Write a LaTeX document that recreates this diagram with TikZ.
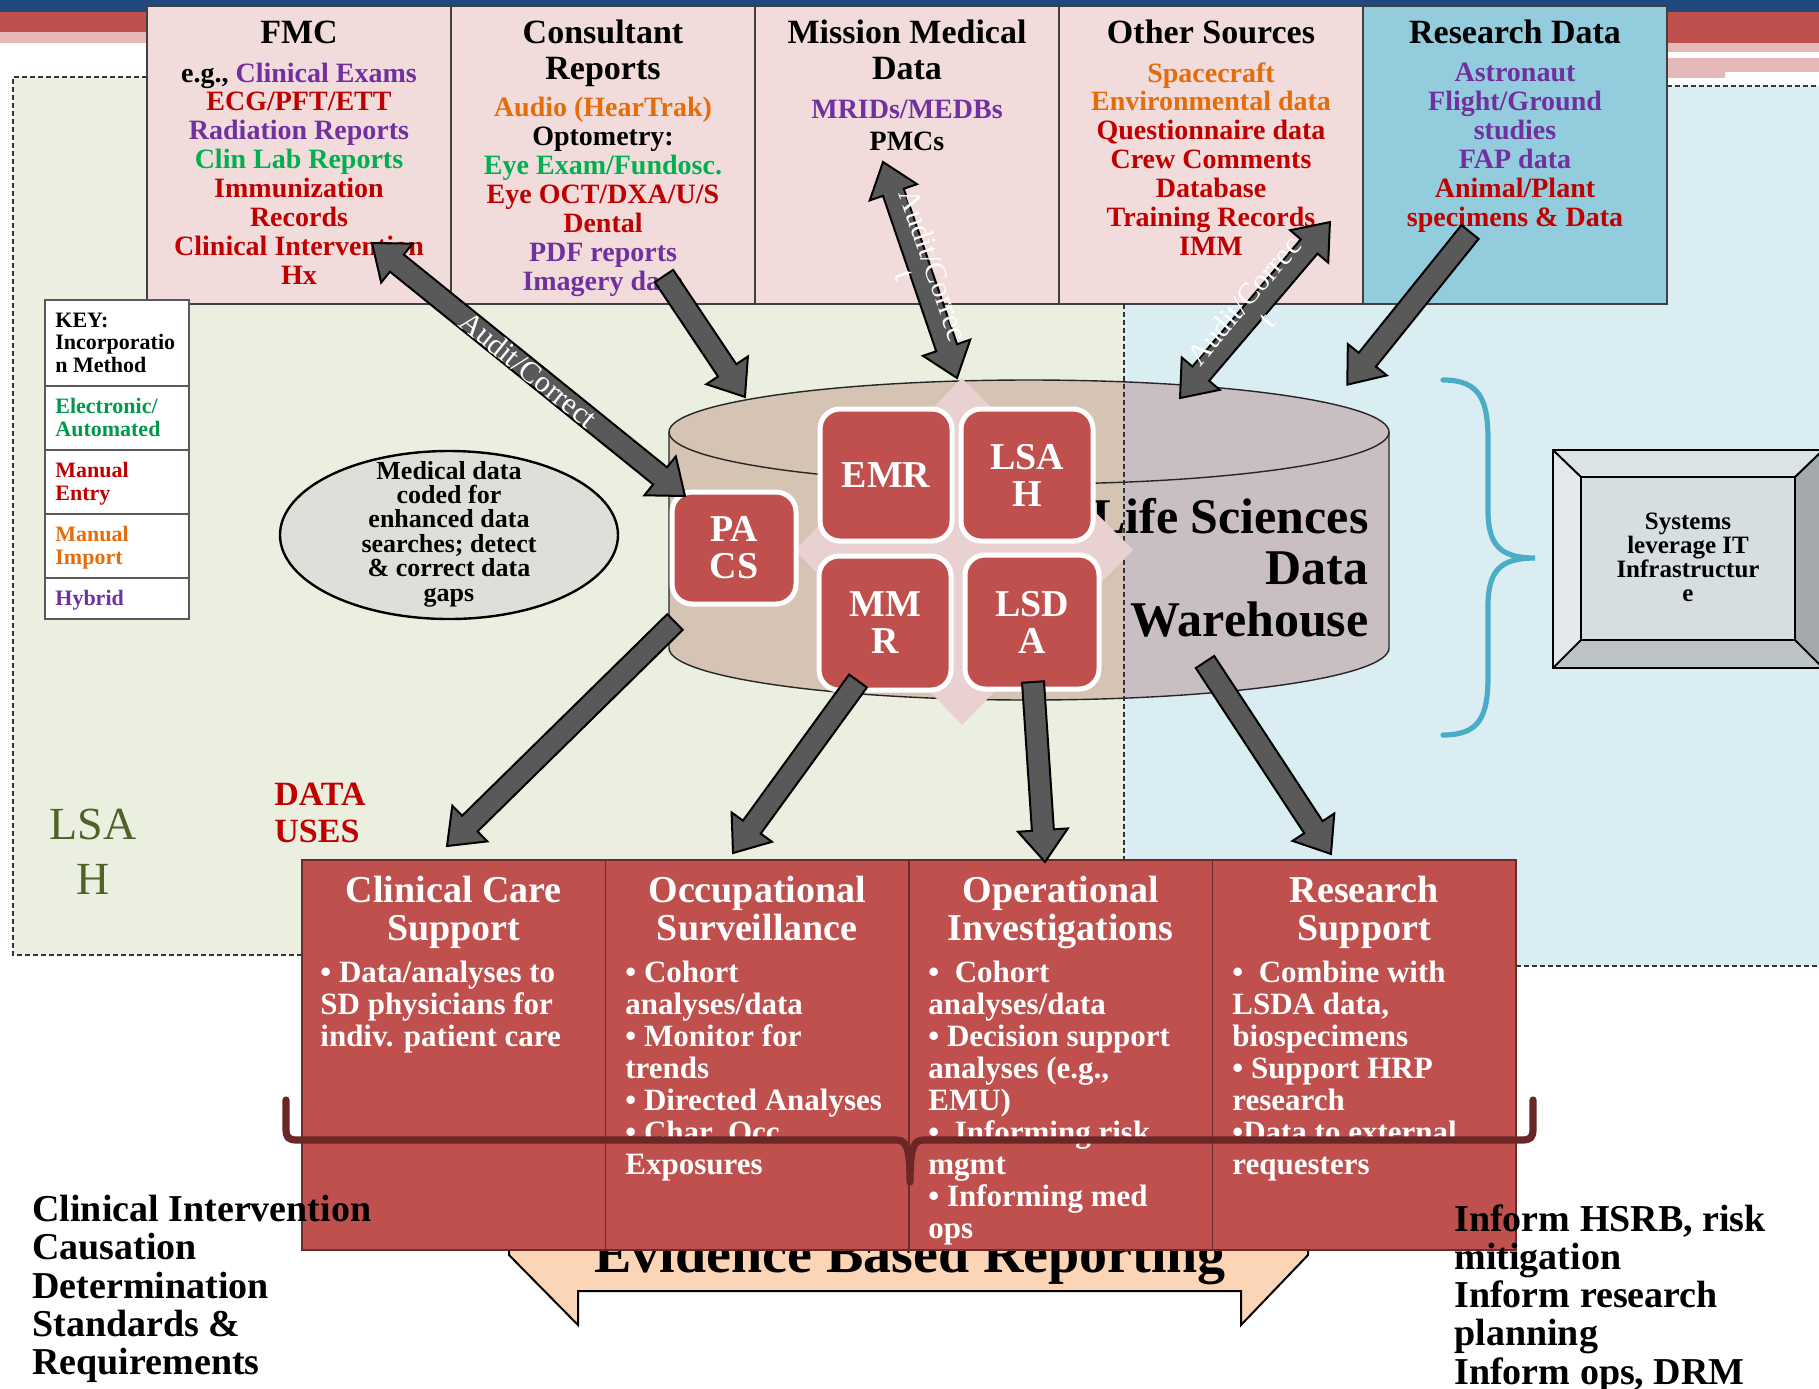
\documentclass[tikz,border=0pt]{standalone}
\usepackage{fontspec}
\setmainfont{Liberation Serif}
\usetikzlibrary{shapes.geometric}

\definecolor{cpurple}{HTML}{7030A0}
\definecolor{cred}{HTML}{C00000}
\definecolor{cgreen}{HTML}{00B050}
\definecolor{kgreen}{HTML}{00994C}
\definecolor{corange}{HTML}{E46C0A}
\definecolor{hdrpink}{HTML}{F2DCDB}
\definecolor{hdrblue}{HTML}{93CDDD}
\definecolor{bgreen}{HTML}{EBEFDF}
\definecolor{bblue}{HTML}{DAEDF3}
\definecolor{tablered}{HTML}{C0504D}
\definecolor{bandblue}{HTML}{1F497D}
\definecolor{bandpink}{HTML}{E6B9B8}
\definecolor{arrowgray}{HTML}{595959}
\definecolor{cyltan}{HTML}{D5C3B4}
\definecolor{cylmauve}{HTML}{C9BEC2}
\definecolor{diampink}{HTML}{EAD1D1}
\definecolor{olive}{HTML}{4F6228}
\definecolor{bracebl}{HTML}{4BACC6}
\definecolor{bracered}{HTML}{6B2626}
\definecolor{peach}{HTML}{FBD5B5}
\definecolor{ellgray}{HTML}{DDDFD9}
\definecolor{bevtop}{HTML}{DCE3E6}
\definecolor{bevleft}{HTML}{E4EAEC}
\definecolor{bevbot}{HTML}{BDC3C5}
\definecolor{bevright}{HTML}{A4AAAC}
\definecolor{bevface}{HTML}{D7DEE1}

\newcommand\tstrut{\rule[-0.22em]{0pt}{0.92em}}

\newdimen\arxA \newdimen\aryA \newdimen\arxB \newdimen\aryB
\newcommand\getarrowgeom[2]{%
  \pgfextractx{\arxA}{\pgfpointanchor{#1}{center}}%
  \pgfextracty{\aryA}{\pgfpointanchor{#1}{center}}%
  \pgfextractx{\arxB}{\pgfpointanchor{#2}{center}}%
  \pgfextracty{\aryB}{\pgfpointanchor{#2}{center}}%
  \pgfmathsetmacro\arang{atan2(\aryB-\aryA,\arxB-\arxA)}%
  \pgfmathsetmacro\arlen{veclen(\arxB-\arxA,\aryB-\aryA)}%
  \pgfmathsetmacro\arbase{\arlen-16}%
  \pgfmathsetmacro\armid{\arlen/2}%
}
\newcommand\sarrow[2]{%
  \getarrowgeom{#1}{#2}%
  \begin{scope}[shift={(#1)},rotate=\arang]
    \draw[barrow] (0pt,-5.5pt) -- (\arbase pt,-5.5pt) -- (\arbase pt,-12.5pt) -- (\arlen pt,0pt)
      -- (\arbase pt,12.5pt) -- (\arbase pt,5.5pt) -- (0pt,5.5pt) -- cycle;
  \end{scope}}
\newcommand\darrow[4]{%
  \getarrowgeom{#1}{#2}%
  \begin{scope}[shift={(#1)},rotate=\arang]
    \draw[barrow] (0pt,0pt) -- (16pt,-12.5pt) -- (16pt,-5.5pt) -- (\arbase pt,-5.5pt) -- (\arbase pt,-12.5pt)
      -- (\arlen pt,0pt) -- (\arbase pt,12.5pt) -- (\arbase pt,5.5pt) -- (16pt,5.5pt) -- (16pt,12.5pt) -- cycle;
    \node[arrlabel,transform shape] (#3) at (\armid pt,0pt) {#4};
  \end{scope}}

\begin{document}
\begin{tikzpicture}[x=0.5pt,y=-0.5pt,
  hdtitle/.style={font=\fontsize{17}{18}\selectfont\bfseries,align=center,inner sep=0pt},
  hdbody/.style={font=\fontsize{14}{14.43}\selectfont\bfseries,align=center,inner sep=0pt},
  keytxt/.style={font=\fontsize{11}{11.2}\selectfont\bfseries,align=left,anchor=west,inner sep=0pt},
  celltitle/.style={font=\fontsize{19}{19}\selectfont\bfseries,align=center,inner sep=0pt,text=white},
  cellbody/.style={font=\fontsize{15.5}{16}\selectfont\bfseries,align=left,anchor=west,inner sep=0pt,text=white},
  bigtxt/.style={font=\fontsize{19}{19.2}\selectfont\bfseries,align=left,anchor=west,inner sep=0pt},
  dbbox/.style={draw=white,line width=2.5pt,fill=tablered,rounded corners=10pt,inner sep=0pt,
     font=\fontsize{19}{18.5}\selectfont\bfseries,text=white,align=center},
  barrow/.style={draw=black,line width=1pt,fill=arrowgray,line join=miter},
  arrlabel/.style={font=\fontsize{15}{15}\selectfont,text=white,align=center,inner sep=0pt},
  hdrbox/.style={draw=black!75,line width=0.7pt},
  dashline/.style={draw=black!80,line width=0.6pt,dash pattern=on 2.5pt off 1.5pt},
  cylline/.style={draw=black!85,line width=0.7pt},
  cellbox/.style={draw=black!45!tablered,line width=0.6pt,fill=tablered},
  bevline/.style={draw=black,line width=1pt}
]
\useasboundingbox (0,0) rectangle (1819,1388);
\fill[white] (0,0) rectangle (1819,1388);

% top bands
\fill[bandblue] (0,0) rectangle (1819,12);
\fill[tablered] (0,12) rectangle (147,32);
\fill[bandpink] (0,32) rectangle (147,43);
\fill[tablered] (1667,12) rectangle (1819,43);
\fill[bandpink] (1667,43) rectangle (1819,52);
\fill[bandpink] (1667,58) rectangle (1819,72);
\fill[bandpink] (1667,72) rectangle (1725,78);

% regions
\fill[bgreen] (13,77) rectangle (1124,955);
\fill[bblue] (1124,86) rectangle (1819,966);
\draw[dashline] (147,77) -- (13,77) -- (13,955) -- (302,955);
\draw[dashline] (1667,86) -- (1819,86);
\draw[dashline] (1516,966) -- (1819,966);

% header boxes
\foreach \xa/\xb/\fc in {147/451/hdrpink,451/755/hdrpink,755/1059/hdrpink,1059/1363/hdrpink,1363/1667/hdrblue}
  \draw[hdrbox,fill=\fc] (\xa,6) rectangle (\xb,304);

\node[hdtitle] (tFMC) at (299,35.8) {\tstrut FMC};
\node[hdbody] (fmcBody) at (299,176.3) {\tstrut e.g., \textcolor{cpurple}{Clinical Exams}\\
  \textcolor{cred}{ECG/PFT/ETT}\\ \textcolor{cpurple}{Radiation Reports}\\ \textcolor{cgreen}{Clin Lab Reports}\\
  \textcolor{cred}{Immunization}\\ \textcolor{cred}{Records}\\ \textcolor{cred}{Clinical Intervention}\\ \textcolor{cred}{Hx}\tstrut};

\node[hdtitle] (tCon) at (603,53.8) {\tstrut Consultant\\Reports\tstrut};
\node[hdbody] (conBody) at (603,196.8) {\tstrut\textcolor{corange}{Audio (HearTrak)}\\ Optometry:\\
  \textcolor{cgreen}{Eye Exam/Fundosc.}\\ \textcolor{cred}{Eye OCT/DXA/U/S}\\ \textcolor{cred}{Dental}\\
  \textcolor{cpurple}{PDF reports}\\ \textcolor{cpurple}{Imagery data}\tstrut};

\node[hdtitle] (tMis) at (907,53.8) {\tstrut Mission Medical\\Data\tstrut};
\node[hdbody,font=\fontsize{14}{16}\selectfont\bfseries] (misBody) at (907,127.3) {\tstrut\textcolor{cpurple}{MRIDs/MEDBs}\\PMCs\tstrut};

\node[hdtitle] (tOth) at (1211,35.8) {\tstrut Other Sources};
\node[hdbody] (othBody) at (1211,161.8) {\tstrut\textcolor{corange}{Spacecraft}\\ \textcolor{corange}{Environmental data}\\
  \textcolor{cred}{Questionnaire data}\\ \textcolor{cred}{Crew Comments}\\ \textcolor{cred}{Database}\\
  \textcolor{cred}{Training Records}\\ \textcolor{cred}{IMM}\tstrut};

\node[hdtitle] (tRes) at (1515,35.8) {\tstrut Research Data};
\node[hdbody] (resBody) at (1515,147.3) {\tstrut\textcolor{cpurple}{Astronaut}\\ \textcolor{cpurple}{Flight/Ground}\\
  \textcolor{cpurple}{studies}\\ \textcolor{cpurple}{FAP data}\\ \textcolor{cred}{Animal/Plant}\\ \textcolor{cred}{specimens \& Data}\tstrut};

% key
\draw[draw=black!65,line width=0.8pt,fill=white] (45,300) rectangle (189,619);
\foreach \yy in {386,450,514,578} \draw[draw=black!65,line width=0.8pt] (45,\yy) -- (189,\yy);
\node[keytxt] (keyA) at (55,344.7) {\tstrut KEY:\\Incorporatio\\n Method\tstrut};
\node[keytxt,text=kgreen,font=\fontsize{11}{11.5}\selectfont\bfseries] (keyB) at (55,420.2) {\tstrut Electronic/\\Automated\tstrut};
\node[keytxt,text=cred,font=\fontsize{11}{11.5}\selectfont\bfseries] (keyC) at (55,484.2) {\tstrut Manual\\Entry\tstrut};
\node[keytxt,text=corange,font=\fontsize{11}{11.5}\selectfont\bfseries] (keyD) at (55,548.2) {\tstrut Manual\\Import\tstrut};
\node[keytxt,text=cpurple] (keyE) at (55,600.7) {\tstrut Hybrid};

% ellipse
\node[draw=black,line width=1.2pt,ellipse,fill=ellgray,minimum width=169pt,minimum height=84pt] (ell) at (449,535) {};
\node[font=\fontsize{13}{12.2}\selectfont\bfseries,align=center,inner sep=0pt] (elltxt) at (449,534)
  {Medical data\\coded for\\enhanced data\\searches; detect\\\& correct data\\gaps};

% cylinder
\begin{scope}
  \clip (0,0) rectangle (1124,1388);
  \fill[cyltan] (669,432) -- (669,648) arc[start angle=180,end angle=360,x radius=180pt,y radius=26pt] -- (1389,432) arc[start angle=0,end angle=180,x radius=180pt,y radius=26pt] -- cycle;
\end{scope}
\begin{scope}
  \clip (1124,0) rectangle (1819,1388);
  \fill[cylmauve] (669,432) -- (669,648) arc[start angle=180,end angle=360,x radius=180pt,y radius=26pt] -- (1389,432) arc[start angle=0,end angle=180,x radius=180pt,y radius=26pt] -- cycle;
\end{scope}
\draw[cylline] (669,432) -- (669,648) arc[start angle=180,end angle=360,x radius=180pt,y radius=26pt] -- (1389,432) arc[start angle=0,end angle=180,x radius=180pt,y radius=26pt] -- cycle;
\draw[cylline] (669,432) arc[start angle=180,end angle=360,x radius=180pt,y radius=26pt];
\draw[dashline] (1124,304) -- (1124,955);

\node[font=\fontsize{25}{25.75}\selectfont\bfseries,align=right,anchor=east,inner sep=0pt] (lsdw) at (1369,572.5)
  {\tstrut Life Sciences\\Data\\Warehouse\tstrut};

% diamond and data boxes
\fill[diampink] (962,378) -- (1133,550) -- (962,725) -- (795,550) -- cycle;
\node[dbbox,minimum width=62pt,minimum height=56pt] (pacs) at (734,548) {PA\\CS};
\node[dbbox,minimum width=66pt,minimum height=66pt] (emr) at (886,475) {EMR};
\node[dbbox,minimum width=66pt,minimum height=66pt] (lsah) at (1027,475) {LSA\\H};
\node[dbbox,minimum width=66pt,minimum height=67pt] (mmr) at (885,623) {MM\\R};
\node[dbbox,minimum width=67pt,minimum height=67pt] (lsda) at (1032,622) {LSD\\A};

% right brace
\draw[bracebl,line width=2.6pt,line cap=round] (1443,380) .. controls (1480,380) and (1488,400) .. (1488,440) -- (1488,510)
  .. controls (1488,545) and (1500,558) .. (1535,558) .. controls (1500,558) and (1488,571) .. (1488,606) -- (1488,676)
  .. controls (1488,716) and (1480,735) .. (1443,735);

% systems box
\fill[bevtop] (1553,450) -- (1823,450) -- (1795,477) -- (1581,477) -- cycle;
\fill[bevleft] (1553,450) -- (1581,477) -- (1581,640) -- (1553,668) -- cycle;
\fill[bevbot] (1553,668) -- (1581,640) -- (1795,640) -- (1823,668) -- cycle;
\fill[bevright] (1823,450) -- (1795,477) -- (1795,640) -- (1823,668) -- cycle;
\fill[bevface] (1581,477) rectangle (1795,640);
\draw[bevline] (1553,450) rectangle (1823,668);
\draw[bevline] (1581,477) rectangle (1795,640);
\draw[bevline] (1553,450) -- (1581,477) (1823,450) -- (1795,477) (1553,668) -- (1581,640) (1823,668) -- (1795,640);
\node[font=\fontsize{12.5}{12}\selectfont\bfseries,align=center,inner sep=0pt] (sys) at (1688,557)
  {Systems\\leverage IT\\Infrastructur\\e};

% Evidence based reporting banner
\draw[fill=peach,line width=1pt,draw=black] (509,1255) -- (578,1325) -- (578,1291) -- (1241,1291) -- (1241,1325) -- (1308,1255) -- (1308,1210) -- (509,1210) -- cycle;
\node[font=\fontsize{28}{28}\selectfont\bfseries,anchor=base,inner sep=0pt] (ebr) at (910,1272) {Evidence Based Reporting};

% table
\foreach \xa/\xb in {302/605.5,605.5/909,909/1212.5,1212.5/1516}
  \draw[cellbox] (\xa,860) rectangle (\xb,1250);
\node[celltitle] (ccs) at (453.75,911.9) {\tstrut Clinical Care\\Support\tstrut};
\node[celltitle] (ocs) at (757.25,911.9) {\tstrut Occupational\\Surveillance\tstrut};
\node[celltitle] (opi) at (1060.75,911.9) {\tstrut Operational\\Investigations\tstrut};
\node[celltitle] (rss) at (1364.25,911.9) {\tstrut Research\\Support\tstrut};

\node[cellbody] (ccsBody) at (320,1006.6) {\tstrut • Data/analyses to\\SD physicians for\\indiv. patient care\tstrut};
\node[cellbody] (ocsBody) at (625,1070.6) {\tstrut • Cohort\\analyses/data\\• Monitor for\\trends\\• Directed Analyses\\• Char. Occ\\Exposures\tstrut};
\node[cellbody] (opiBody) at (928,1102.6) {\tstrut •\ \ Cohort\\analyses/data\\• Decision support\\analyses (e.g.,\\EMU)\\•\ \ Informing risk\\mgmt\\• Informing med\\ops\tstrut};
\node[cellbody] (rssBody) at (1232,1070.6) {\tstrut •\ \ Combine with\\LSDA data,\\biospecimens\\• Support HRP\\research\\•Data to external\\requesters\tstrut};

% bottom brace
\draw[bracered,line width=3.6pt,line cap=round,line join=round] (286,1100) -- (286,1128) .. controls (286,1138) and (288,1140) .. (298,1140) -- (896,1140)
  .. controls (906,1140) and (910,1146) .. (910,1182) .. controls (910,1146) and (914,1140) .. (924,1140) -- (1521,1140)
  .. controls (1531,1140) and (1533,1138) .. (1533,1128) -- (1533,1100);

% side texts
\node[font=\fontsize{23}{27.5}\selectfont,text=olive,align=center,inner sep=0pt] (lsa) at (93,855.5) {\tstrut LSA\\H\tstrut};
\node[font=\fontsize{17}{18.5}\selectfont\bfseries,text=cred,align=left,anchor=west,inner sep=0pt] (du) at (274,816.3) {\tstrut DATA\\USES\tstrut};

\node[bigtxt] (bl) at (32,1288.9) {\tstrut Clinical Intervention\\Causation\\Determination\\Standards \&\\Requirements\tstrut};
\node[bigtxt,font=\fontsize{19}{19.15}\selectfont\bfseries] (br) at (1454,1298.4) {\tstrut Inform HSRB, risk\\mitigation\\Inform research\\planning\\Inform ops, DRM\tstrut};

% arrow end points
\coordinate (aFmc) at (372,243);
\coordinate (aPacsIn) at (685,496);
\coordinate (aCons) at (664,276);
\coordinate (aCylA) at (745,397);
\coordinate (aMis) at (883,162);
\coordinate (aCylB) at (957,378);
\coordinate (aCylC) at (1180,398);
\coordinate (aOth) at (1330,222);
\coordinate (aRes) at (1470,232);
\coordinate (aCylD) at (1347,385);
\coordinate (aPacsOut) at (675,622);
\coordinate (aCcs) at (447,846);
\coordinate (aMmr) at (858,681);
\coordinate (aOcc) at (733,853);
\coordinate (aLsda) at (1033,682);
\coordinate (aOpi) at (1045,862);
\coordinate (aCylE) at (1205,662);
\coordinate (aRss) at (1331,854);

\darrow{aFmc}{aPacsIn}{lblFmc}{Audit/Correct}
\sarrow{aCons}{aCylA}
\darrow{aMis}{aCylB}{lblMis}{Audit/Correc\\t}
\darrow{aCylC}{aOth}{lblOth}{Audit/Correc\\t}
\sarrow{aRes}{aCylD}
\sarrow{aPacsOut}{aCcs}
\sarrow{aMmr}{aOcc}
\sarrow{aLsda}{aOpi}
\sarrow{aCylE}{aRss}
\end{tikzpicture}
\end{document}
